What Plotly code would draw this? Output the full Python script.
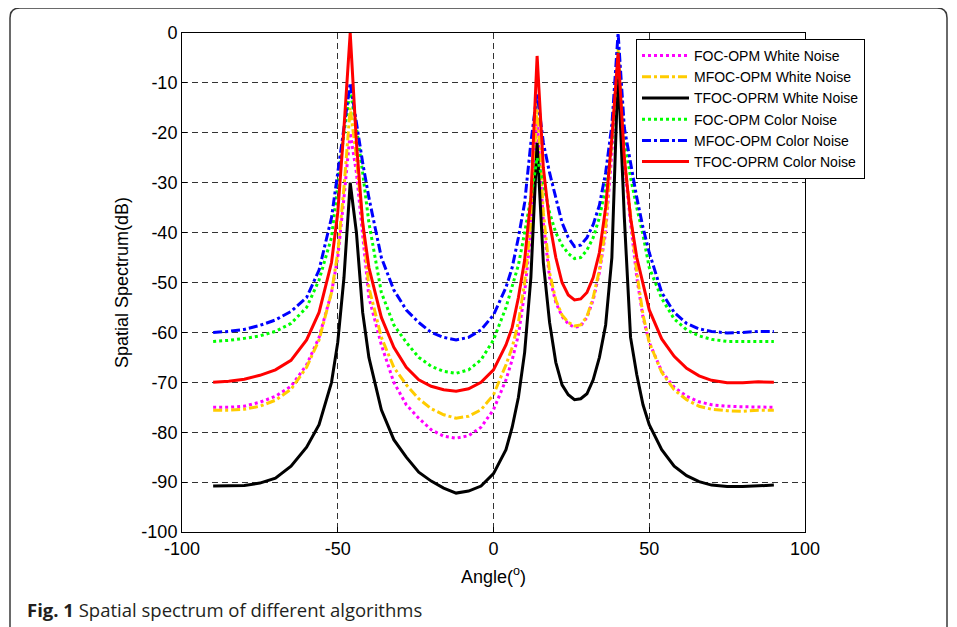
import plotly.graph_objects as go

# Angles (degrees) at which the spectra are read
angles = [-90, -85, -80, -75, -70, -65, -60, -56, -52, -50, -48, -46, -44, -42, -40,
          -36, -32, -28, -24, -20, -16, -12, -8, -4, 0, 4, 6, 8, 10, 12, 14, 16, 18,
          20, 22, 24, 26, 28, 30, 32, 34, 36, 38, 40, 42, 44, 46, 48, 50, 54, 58, 62,
          66, 70, 75, 80, 85, 90]

foc_white = [-75, -75, -74.8, -74, -72.8, -70.8, -66.5, -61, -52, -45, -33, -20, -28, -40, -53,
             -62.5, -70, -74.5, -77.2, -79.5, -80.8, -81.2, -80.7, -79, -75.5, -69.5, -65.5, -60.5, -52, -40, -17, -38, -49,
             -54, -56.8, -58.3, -59, -58.7, -57, -53.5, -48, -40, -24, -4, -26, -38, -49, -57, -62, -67.8, -71, -72.8,
             -73.9, -74.5, -74.8, -74.9, -75, -75]

mfoc_white = [-75.6, -75.6, -75.4, -74.8, -73.6, -71.4, -67, -61.5, -52, -44, -31, -15, -25, -38, -51,
              -61, -67, -70.5, -73.3, -75.3, -76.5, -77.2, -76.8, -75.5, -72.5, -66.5, -63, -58, -50, -38, -14, -36, -48,
              -53.5, -56.5, -58, -58.7, -58.5, -56.8, -53, -47.5, -39, -22, -3, -25, -37, -48, -56.5, -62, -68, -71.5, -73.5,
              -74.8, -75.4, -75.7, -75.8, -75.6, -75.6]

tfoc_white = [-90.8, -90.8, -90.7, -90.2, -89.2, -86.8, -83, -78.5, -70, -62, -49, -30, -40, -56, -65,
              -75.5, -81.5, -85, -88, -89.8, -91.2, -92.2, -91.8, -90.8, -88.3, -83.5, -79, -73, -64, -49, -22, -46, -58,
              -66, -70.5, -72.5, -73.5, -73.3, -72.3, -69.5, -65, -58.5, -45, -7, -37, -61, -68.5, -74.5, -78.5, -83.5, -86.8, -88.7,
              -89.9, -90.6, -90.9, -90.9, -90.8, -90.6]

foc_color = [-61.8, -61.6, -61.2, -60.7, -59.8, -58.2, -55, -49.5, -41, -31, -20, -11.5, -19, -28, -38,
             -52, -58.5, -62, -65, -66.8, -67.8, -68.2, -67.5, -65.5, -61.5, -55, -51, -46.5, -40, -33, -25, -30, -36,
             -40, -42.5, -44.2, -45.2, -45, -43.5, -41, -37, -31, -22, -3, -21, -29, -35, -40.5, -47, -53.2, -57.3, -59.5,
             -60.7, -61.4, -61.8, -61.8, -61.8, -61.8]

mfoc_color = [-60, -59.8, -59.4, -58.6, -57.5, -55.8, -53, -47.5, -37, -28, -18, -10, -18, -26, -33,
              -45, -51.5, -55.5, -58, -60, -61, -61.5, -61, -59.5, -56.5, -51, -47, -41, -34, -22, -12, -22, -28,
              -33, -38, -41, -42.8, -42.5, -41, -38.4, -34.5, -28, -18.5, 0, -19, -26, -33, -39, -44, -52, -56, -58.2,
              -59.3, -59.8, -60.1, -60, -59.8, -59.8]

tfoc_color = [-70, -69.8, -69.4, -68.6, -67.5, -65.6, -61.5, -56, -46, -36, -19, 0, -22, -38, -47,
              -57, -63, -67, -69.5, -70.8, -71.5, -71.8, -71.3, -70, -67.5, -62.5, -59, -53, -45.5, -33, -4.6, -27, -38,
              -45, -50, -52.5, -53.5, -53.3, -52, -49, -44, -35, -21, -4, -25, -37, -45, -50, -55.5, -61.3, -64.8, -67.2,
              -68.7, -69.6, -70.1, -70.1, -69.9, -70]

series_names = ["FOC-OPM White Noise", "MFOC-OPM White Noise", "TFOC-OPRM White Noise",
                "FOC-OPM Color Noise", "MFOC-OPM Color Noise", "TFOC-OPRM Color Noise"]
series_values = [foc_white, mfoc_white, tfoc_white, foc_color, mfoc_color, tfoc_color]
series_colors = ["#FF00FF", "#FFCC00", "#000000", "#00FF00", "#0000FF", "#FF0000"]
series_dash = ["dot", "dashdot", "solid", "dot", "dashdot", "solid"]

x_ticks = [-100, -50, 0, 50, 100]
y_ticks = [-100, -90, -80, -70, -60, -50, -40, -30, -20, -10, 0]

fig = go.Figure()
for name, vals, col, dsh in zip(series_names, series_values, series_colors, series_dash):
    fig.add_trace(go.Scatter(x=angles, y=vals, mode="lines", name=name,
                             line=dict(color=col, width=3, dash=dsh)))

# The page body adds an 8 px offset, so the figure is sized to fill the window after it
OFF = 8
WIN_W, WIN_H = 957, 627
W, H = WIN_W - OFF, WIN_H - OFF
# plot-area edges in window pixels
L, R, T, B = 182, 805, 33, 532

def px2paper(px, py):
    return (px - L) / (R - L), (B - py) / (B - T)

axis_font = dict(family="Liberation Sans, Arial, sans-serif", size=18, color="#000")

fig.update_layout(
    width=W, height=H,
    margin=dict(l=L - OFF, r=WIN_W - R, t=T - OFF, b=WIN_H - B),
    paper_bgcolor="white", plot_bgcolor="white",
    font=axis_font,
    showlegend=True,
    legend=dict(x=px2paper(636, 0)[0], y=px2paper(0, 39)[1], xanchor="left", yanchor="top",
                bgcolor="white", bordercolor="#000", borderwidth=1,
                font=dict(family="Liberation Sans, Arial, sans-serif", size=14, color="#000"),
                itemwidth=47, tracegroupgap=0),
    xaxis=dict(range=[-100, 100], tickvals=x_ticks, ticktext=[str(v) for v in x_ticks],
               showgrid=True, gridcolor="#333", gridwidth=1, griddash="6px,4px",
               zeroline=False, showline=True, linecolor="#000", linewidth=1, mirror=True,
               ticks="inside", ticklen=5, tickcolor="#000",
               title=dict(text="Angle(<sup>o</sup>)", standoff=12, font=axis_font),
               tickfont=axis_font),
    yaxis=dict(range=[-100, 0], tickvals=y_ticks, ticktext=[str(v) for v in y_ticks],
               showgrid=True, gridcolor="#333", gridwidth=1, griddash="6px,4px",
               zeroline=False, showline=True, linecolor="#000", linewidth=1, mirror=True,
               ticks="inside", ticklen=5, tickcolor="#000",
               title=dict(text="Spatial Spectrum(dB)", standoff=8, font=axis_font),
               tickfont=axis_font),
)

# Outer rounded frame of the figure panel
x0, y0 = px2paper(10, 8)
x1, _ = px2paper(947, 8)
_, yb = px2paper(0, 640)
rx = 10 / (R - L)
ry = 10 / (B - T)
frame = (f"M {x0},{yb} L {x0},{y0 - ry} Q {x0},{y0} {x0 + rx},{y0} "
         f"L {x1 - rx},{y0} Q {x1},{y0} {x1},{y0 - ry} L {x1},{yb}")
fig.add_shape(type="path", path=frame, xref="paper", yref="paper",
              line=dict(color="#3a3a3a", width=1.5), layer="below")

cx, cy = px2paper(25, 609)
fig.add_annotation(x=cx, y=cy, xref="paper", yref="paper", xanchor="left", yanchor="middle",
                   showarrow=False,
                   text="<b>Fig. 1</b> Spatial spectrum of different algorithms",
                   font=dict(family="Open Sans, Noto Sans, sans-serif", size=18.5, color="#231f20"))

fig.write_html("out.html")
